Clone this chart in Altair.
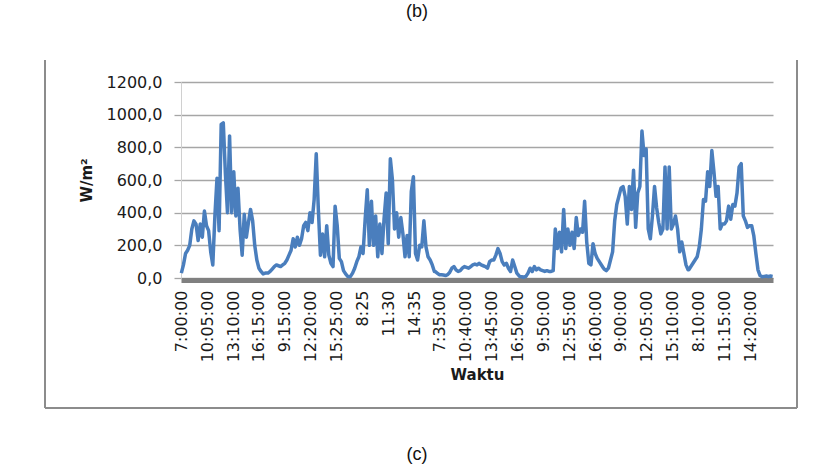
import altair as alt
import pandas as pd

# x-axis tick labels (one every 37 five-minute steps)
tick_labels = ["7:00:00", "10:05:00", "13:10:00", "16:15:00", "9:15:00", "12:20:00",
               "15:25:00", "8:25", "11:30", "14:35", "7:35:00", "10:40:00", "13:45:00",
               "16:50:00", "9:50:00", "12:55:00", "16:00:00", "9:00:00", "12:05:00",
               "15:10:00", "8:10:00", "11:15:00", "14:20:00"]
tick_step = 37          # 5-minute steps between two labels
steps_per_day = 121     # 7:00 .. 17:00 every 5 minutes
sample_every = 3        # values below are read every 15 minutes

# irradiance W/m2, 7:00..17:00 every 15 minutes, one list per day
day1 = [30, 80, 150, 170, 200, 300, 350, 330, 230, 330, 250, 410, 320, 290, 160, 80,
        380, 610, 290, 940, 950, 640, 400, 870, 400, 650, 380, 550, 300, 140, 390, 250,
        340, 420, 350, 200, 110, 60, 40, 25, 30]
day2 = [30, 30, 40, 55, 70, 80, 75, 70, 80, 90, 110, 140, 170, 240, 190, 250, 200, 240,
        320, 340, 290, 400, 340, 480, 760, 420, 140, 270, 130, 320, 140, 90, 70, 440, 320,
        120, 100, 45, 25, 10, 8]
day3 = [10, 30, 60, 100, 130, 190, 150, 360, 540, 200, 470, 200, 380, 130, 330, 150, 360,
        520, 210, 730, 600, 300, 400, 250, 370, 270, 130, 260, 130, 530, 620, 150, 110, 200,
        190, 350, 190, 130, 110, 80, 40]
day4 = [40, 30, 20, 20, 18, 15, 20, 35, 60, 70, 50, 40, 45, 60, 70, 65, 60, 70, 80, 85,
        80, 90, 80, 75, 70, 60, 100, 110, 110, 140, 180, 150, 100, 80, 90, 60, 40, 110, 70,
        30, 15]
day5 = [10, 8, 5, 10, 30, 60, 40, 70, 50, 60, 50, 45, 40, 45, 40, 40, 45, 300, 180, 280,
        160, 420, 180, 300, 200, 280, 180, 370, 260, 300, 280, 470, 220, 90, 80, 210, 150,
        120, 100, 80, 60]
day6 = [55, 45, 60, 110, 160, 350, 450, 500, 550, 560, 500, 330, 560, 420, 660, 310, 520,
        560, 900, 750, 790, 300, 240, 380, 560, 430, 340, 270, 300, 680, 300, 680, 300, 330,
        380, 300, 160, 220, 150, 80, 50]
day7 = [50, 70, 90, 110, 130, 190, 300, 480, 470, 650, 560, 780, 650, 500, 560, 300, 330,
        330, 350, 440, 360, 450, 440, 520, 680, 700, 380, 350, 310, 320, 320, 260, 150, 50,
        15, 8, 10, 12, 8, 12, 10]
days = [day1, day2, day3, day4, day5, day6, day7]

rows = []
for d, vals in enumerate(days):
    for t, v in enumerate(vals):
        rows.append({"step": d * steps_per_day + t * sample_every, "value": v})
df = pd.DataFrame(rows)

n_steps = steps_per_day * len(days)
tick_values = [i * tick_step for i in range(len(tick_labels))]
label_array = "[" + ",".join("'" + s + "'" for s in tick_labels) + "]"

FONT = "DejaVu Sans"

line = alt.Chart(df).mark_line(color="#4a7ebd", strokeWidth=3.5, strokeJoin="round").encode(
    x=alt.X("step:Q",
            scale=alt.Scale(domain=[-0.5, n_steps - 0.5], nice=False, zero=False),
            axis=alt.Axis(values=tick_values,
                          labelExpr=label_array + "[round(datum.value/" + str(tick_step) + ")]",
                          labelAngle=-90, labelAlign="right", labelBaseline="middle",
                          labelFont=FONT, labelFontSize=16, labelColor="#1a1a1a",
                          labelOverlap=False, labelFlush=False, labelBound=False,
                          labelPadding=10, offset=2,
                          ticks=False, grid=False,
                          domainColor="#808080", domainWidth=5,
                          title="Waktu", titleFont=FONT, titleFontSize=15,
                          titleFontWeight="bold", titleColor="#1a1a1a", titlePadding=6)),
    y=alt.Y("value:Q",
            scale=alt.Scale(domain=[0, 1200], nice=False),
            axis=alt.Axis(values=[0, 200, 400, 600, 800, 1000, 1200],
                          labelExpr="replace(format(datum.value, '.1f'), '.', ',')",
                          labelFont=FONT, labelFontSize=16, labelColor="#1a1a1a",
                          labelPadding=12,
                          tickSize=7, tickColor="#a6a6a6", tickWidth=1.3,
                          gridColor="#a6a6a6", gridWidth=1.3,
                          domainColor="#d0d0d0", domainWidth=1,
                          title="W/m²", titleFont=FONT, titleFontSize=15,
                          titleFontWeight="bold", titleColor="#1a1a1a",
                          titleX=-95, titleBaseline="middle")),
)

one = alt.Data(values=[{"k": 1}])
frame_color = "#8c8c8c"
left_border = alt.Chart(one).mark_rule(color=frame_color, strokeWidth=2).encode(
    x=alt.value(-136), y=alt.value(-22), y2=alt.value(326))
right_border = alt.Chart(one).mark_rule(color=frame_color, strokeWidth=2).encode(
    x=alt.value(616), y=alt.value(-22), y2=alt.value(326))
bottom_border = alt.Chart(one).mark_rule(color=frame_color, strokeWidth=2).encode(
    x=alt.value(-136), x2=alt.value(616), y=alt.value(326))

label_b = alt.Chart(one).mark_text(font="Liberation Sans", fontSize=18, color="#111",
                                   baseline="middle", align="center").encode(
    x=alt.value(236), y=alt.value(-70), text=alt.value("(b)"))
label_c = alt.Chart(one).mark_text(font="Liberation Sans", fontSize=18, color="#111",
                                   baseline="middle", align="center").encode(
    x=alt.value(236), y=alt.value(373), text=alt.value("(c)"))

chart = alt.layer(line, left_border, right_border, bottom_border, label_b, label_c).properties(
    width=592, height=196,
    autosize=alt.AutoSizeParams(type="none"),
    padding={"left": 181, "top": 82, "right": 61, "bottom": 196},
    background="white",
).configure_view(stroke=None)

chart.save("out.html", embed_options={"renderer": "svg", "actions": False})
